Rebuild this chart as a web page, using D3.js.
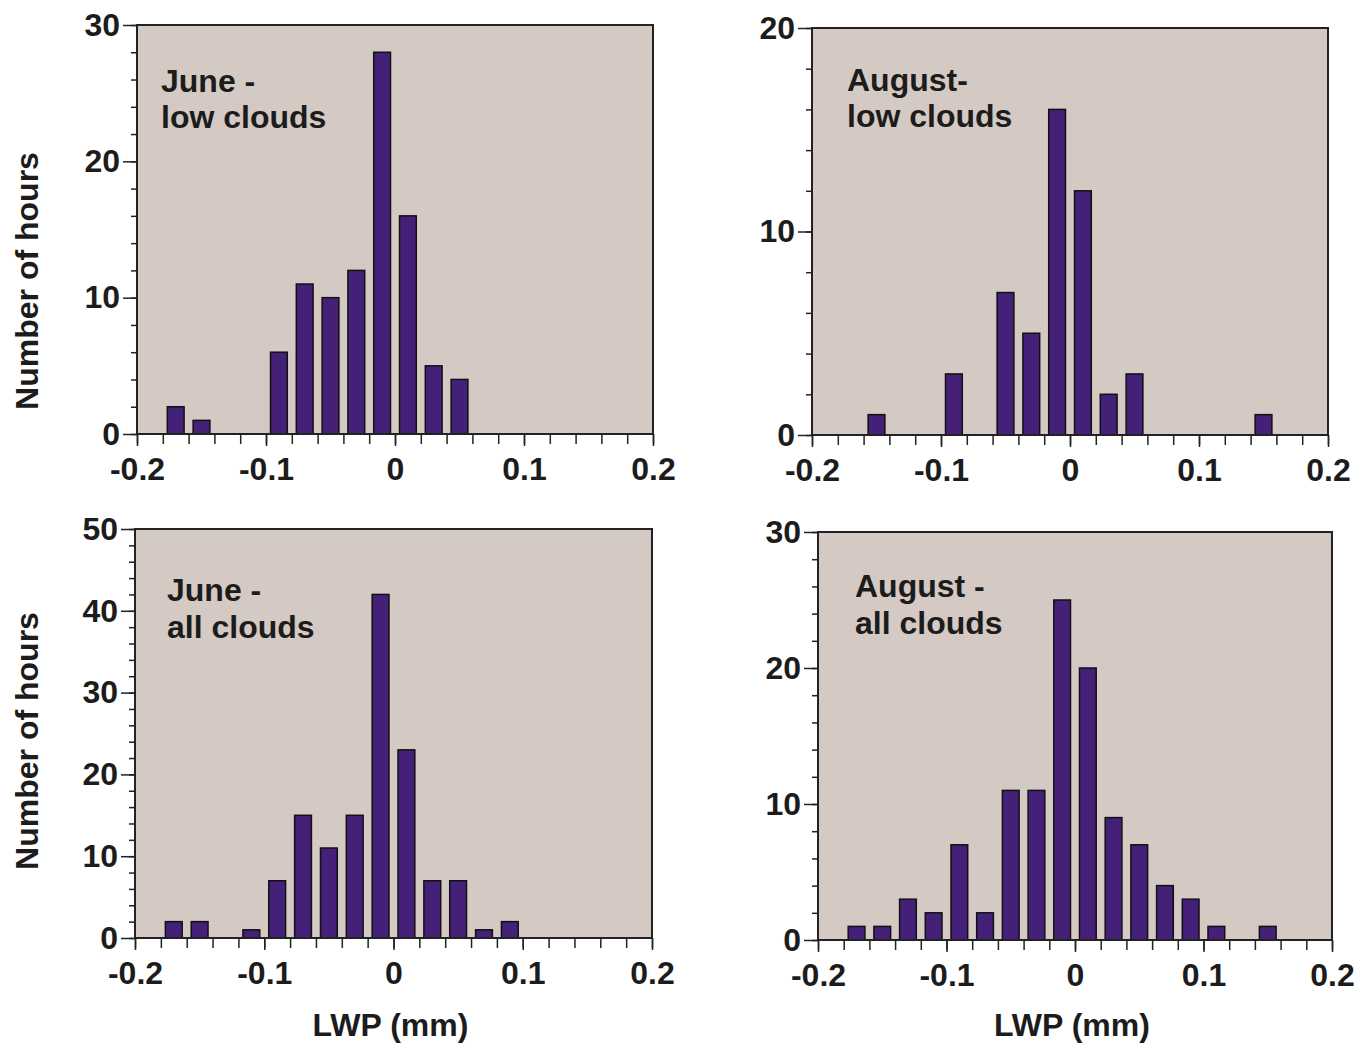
<!DOCTYPE html>
<html>
<head>
<meta charset="utf-8">
<script src="https://cdn.jsdelivr.net/npm/d3@7"></script>
<style>
  html, body { margin: 0; padding: 0; background: #ffffff; }
  svg { display: block; }
  text { font-family: "Liberation Sans", Arial, Helvetica, sans-serif; font-weight: bold; fill: #1c1c1c; }
</style>
</head>
<body>
<svg id="chart" width="1369" height="1044"></svg>
<script>
// ---------- DATA ----------
const binCenters = [-0.19, -0.17, -0.15, -0.13, -0.11, -0.09, -0.07, -0.05, -0.03, -0.01,
                     0.01,  0.03,  0.05,  0.07,  0.09,  0.11,  0.13,  0.15,  0.17,  0.19];
const juneLow   = [0, 2, 1, 0, 0, 6, 11, 10, 12, 28, 16, 5, 4, 0, 0, 0, 0, 0, 0, 0];
const augustLow = [0, 0, 1, 0, 0, 3, 0, 7, 5, 16, 12, 2, 3, 0, 0, 0, 0, 1, 0, 0];
const juneAll   = [0, 2, 2, 0, 1, 7, 15, 11, 15, 42, 23, 7, 7, 1, 2, 0, 0, 0, 0, 0];
const augustAll = [0, 1, 1, 3, 2, 7, 2, 11, 11, 25, 20, 9, 7, 4, 3, 1, 0, 1, 0, 0];

const xTickValues = [-0.2, -0.1, 0, 0.1, 0.2];
const xTickLabels = ["-0.2", "-0.1", "0", "0.1", "0.2"];
const panelTitles = [["June -", "low clouds"], ["August-", "low clouds"],
                     ["June -", "all clouds"], ["August -", "all clouds"]];
const yMaxima = [30, 20, 50, 30];
const yLabel = "Number of hours";
const xLabel = "LWP (mm)";

// ---------- LAYOUT ----------
const panels = [
  { values: juneLow,   title: panelTitles[0], yMax: yMaxima[0], left: 137, right: 653,  top: 25,  bottom: 434, tx: 24, ty: [67, 103], ylc: 281 },
  { values: augustLow, title: panelTitles[1], yMax: yMaxima[1], left: 812, right: 1328, top: 28,  bottom: 435, tx: 35, ty: [63, 99] },
  { values: juneAll,   title: panelTitles[2], yMax: yMaxima[2], left: 135, right: 652,  top: 529, bottom: 938, tx: 32, ty: [72, 109], ylc: 741 },
  { values: augustAll, title: panelTitles[3], yMax: yMaxima[3], left: 818, right: 1332, top: 532, bottom: 940, tx: 37, ty: [65, 102] }
];

const FS = 32;
const barHalf = 0.0065;
const svg = d3.select("#chart");

panels.forEach((p, i) => {
  const x = d3.scaleLinear().domain([-0.2, 0.2]).range([p.left, p.right]);
  const y = d3.scaleLinear().domain([0, p.yMax]).range([p.bottom, p.top]);
  const g = svg.append("g");

  // plot background
  g.append("rect")
    .attr("x", p.left).attr("y", p.top)
    .attr("width", p.right - p.left).attr("height", p.bottom - p.top)
    .attr("fill", "#d4c9c3");

  // bars
  const data = binCenters.map((c, k) => ({ c, v: p.values[k] })).filter(d => d.v > 0);
  g.selectAll("rect.bar").data(data).enter().append("rect")
    .attr("class", "bar")
    .attr("x", d => x(d.c - barHalf))
    .attr("width", d => x(d.c + barHalf) - x(d.c - barHalf))
    .attr("y", d => y(d.v))
    .attr("height", d => y(0) - y(d.v))
    .attr("fill", "#452079")
    .attr("stroke", "#111")
    .attr("stroke-width", 1.5);

  // minor x ticks
  const minorX = d3.range(-0.2, 0.2001, 0.02).map(v => +v.toFixed(2));
  const axMinorX = g.append("g").attr("transform", `translate(0,${p.bottom})`)
    .call(d3.axisBottom(x).tickValues(minorX).tickSize(10).tickFormat(""));
  axMinorX.select(".domain").remove();
  // major x ticks + labels
  const axX = g.append("g").attr("transform", `translate(0,${p.bottom})`)
    .call(d3.axisBottom(x).tickValues(xTickValues).tickSize(12).tickPadding(11)
      .tickFormat((d, k) => xTickLabels[k]));
  axX.select(".domain").remove();

  // minor y ticks
  const minorY = d3.range(0, p.yMax + 0.001, 2);
  const axMinorY = g.append("g").attr("transform", `translate(${p.left},0)`)
    .call(d3.axisLeft(y).tickValues(minorY).tickSize(6).tickFormat(""));
  axMinorY.select(".domain").remove();
  const majorY = d3.range(0, p.yMax + 0.001, 10);
  const axY = g.append("g").attr("transform", `translate(${p.left},0)`)
    .call(d3.axisLeft(y).tickValues(majorY).tickSize(14).tickPadding(3).tickFormat(d3.format("d")));
  axY.select(".domain").remove();

  [axMinorX, axX, axMinorY, axY].forEach(a => {
    a.selectAll("line").attr("stroke", "#222").attr("stroke-width", 1.5);
    a.selectAll("text").attr("font-size", FS).attr("font-family", null).attr("fill", "#1c1c1c");
  });

  // frame
  g.append("rect")
    .attr("x", p.left).attr("y", p.top)
    .attr("width", p.right - p.left).attr("height", p.bottom - p.top)
    .attr("fill", "none").attr("stroke", "#222").attr("stroke-width", 2);

  // panel title
  p.title.forEach((t, k) => {
    g.append("text").attr("x", p.left + p.tx).attr("y", p.top + p.ty[k])
      .attr("font-size", FS).text(t);
  });

  // y label (left column)
  if (i % 2 === 0) {
    g.append("text").attr("transform", `translate(38,${p.ylc}) rotate(-90)`)
      .attr("text-anchor", "middle").attr("font-size", FS).text(yLabel);
  }
  // x label (bottom row)
  if (i >= 2) {
    g.append("text").attr("x", (p.left + p.right) / 2 - 3).attr("y", 1036)
      .attr("text-anchor", "middle").attr("font-size", FS).text(xLabel);
  }
});
</script>
</body>
</html>
